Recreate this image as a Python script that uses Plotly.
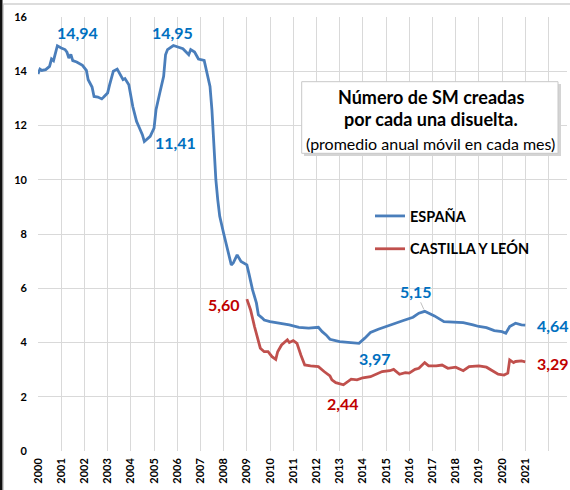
import plotly.graph_objects as go

# ---------------- data ----------------
espana_dates = [
    "2000-01", "2000-02", "2000-03", "2000-05", "2000-07", "2000-08", "2000-09", "2000-10", "2000-11",
    "2001-01", "2001-03", "2001-04", "2001-05", "2001-06", "2001-07", "2001-09", "2001-12",
    "2002-02", "2002-03", "2002-05", "2002-06", "2002-08", "2002-10", "2002-11",
    "2003-01", "2003-02", "2003-04", "2003-06", "2003-07", "2003-09", "2003-10", "2003-12",
    "2004-02", "2004-04", "2004-05", "2004-07", "2004-08", "2004-11",
    "2005-01", "2005-02", "2005-04", "2005-06", "2005-07", "2005-08", "2005-11",
    "2006-02", "2006-04", "2006-07", "2006-08", "2006-10", "2006-12",
    "2007-03", "2007-04", "2007-06", "2007-07", "2007-08", "2007-09", "2007-10", "2007-11",
    "2008-01", "2008-03", "2008-05", "2008-06", "2008-08", "2008-10",
    "2009-01", "2009-02", "2009-04", "2009-06", "2009-07", "2009-09", "2009-10",
    "2010-01", "2010-06", "2010-11", "2011-04", "2011-09", "2012-02", "2012-04", "2012-06", "2012-08",
    "2013-01", "2013-06", "2013-11", "2014-02", "2014-05", "2014-09",
    "2015-01", "2015-05", "2015-10", "2016-03", "2016-06", "2016-09",
    "2017-02", "2017-07", "2017-11", "2018-05", "2018-10",
    "2019-01", "2019-05", "2019-09", "2020-01", "2020-03", "2020-05", "2020-07", "2020-08", "2020-11",
    "2021-01",
]
espana_values = [
    13.90, 14.08, 14.03, 14.06, 14.18, 14.45, 14.39, 14.67, 14.94,
    14.86, 14.80, 14.70, 14.49, 14.62, 14.39, 14.34, 14.22,
    14.03, 13.69, 13.42, 13.07, 13.05, 12.98, 13.05,
    13.20, 13.50, 14.00, 14.08, 13.94, 13.69, 13.73, 13.50,
    12.70, 12.15, 11.99, 11.66, 11.41, 11.60,
    11.90, 12.58, 13.20, 13.81, 14.61, 14.80, 14.95,
    14.88, 14.83, 14.61, 14.80, 14.71, 14.45,
    14.40, 14.06, 13.44, 12.58, 11.10, 10.00, 9.26, 8.65,
    8.03, 7.42, 6.86, 6.93, 7.23, 6.99,
    6.86, 6.56, 5.94, 5.45, 5.02, 4.90, 4.83,
    4.77, 4.71, 4.65, 4.56, 4.53, 4.56, 4.40, 4.28, 4.12,
    4.03, 4.00, 3.97, 4.16, 4.37, 4.49,
    4.59, 4.71, 4.81, 4.93, 5.08, 5.15,
    4.98, 4.77, 4.75, 4.73, 4.65,
    4.59, 4.55, 4.44, 4.40, 4.34, 4.59, 4.65, 4.71, 4.65,
    4.64,
]

cyl_dates = [
    "2009-01", "2009-03", "2009-05", "2009-07", "2009-08", "2009-10", "2009-12",
    "2010-02", "2010-04", "2010-05", "2010-07", "2010-10", "2010-11",
    "2011-01", "2011-03", "2011-05", "2011-07", "2011-10",
    "2012-02", "2012-05", "2012-08", "2012-09", "2012-11",
    "2013-03", "2013-05", "2013-07", "2013-10",
    "2014-01", "2014-05", "2014-08", "2014-11",
    "2015-03", "2015-05", "2015-08", "2015-11",
    "2016-01", "2016-04", "2016-06", "2016-09", "2016-11",
    "2017-03", "2017-06", "2017-07", "2017-09",
    "2018-01", "2018-05", "2018-08", "2019-01", "2019-05", "2019-08", "2019-11",
    "2020-02", "2020-04", "2020-05", "2020-07", "2020-08", "2020-11", "2021-01",
]
cyl_values = [
    5.60, 5.20, 4.59, 4.10, 3.79, 3.66, 3.66,
    3.48, 3.38, 3.66, 3.91, 4.10, 4.00,
    4.07, 3.97, 3.54, 3.17, 3.14,
    3.11, 2.93, 2.77, 2.62, 2.52,
    2.44, 2.56, 2.65, 2.62,
    2.70, 2.74, 2.83, 2.93,
    2.96, 3.01, 2.83, 2.89,
    2.87, 3.01, 3.05, 3.26, 3.14,
    3.14, 3.17, 3.14, 3.05,
    3.09, 2.96, 3.11, 3.14, 3.09, 2.96, 2.83,
    2.80, 2.87, 3.36, 3.26, 3.30, 3.32, 3.29,
]

year_ticks = [str(y) for y in range(2000, 2023)]
year_labels = [str(y) for y in range(2000, 2022)] + [""]
y_ticks = [0, 2, 4, 6, 8, 10, 12, 14, 16]

# (date, value, text, colour, x-offset px, y-offset px)
point_labels = [
    ("2000-11", 14.94, "14,94", "#0070C0", 20, -13),
    ("2005-11", 14.95, "14,95", "#0070C0", -1, -13),
    ("2004-08", 11.41, "11,41", "#0070C0", 31, 1),
    ("2009-01", 5.60, "5,60", "#C00000", -23, 5),
    ("2013-11", 3.97, "3,97", "#0070C0", 16, 15),
    ("2021-01", 4.64, "4,64", "#0070C0", 28, 0),
    ("2021-01", 3.29, "3,29", "#C00000", 28, 2),
    ("2013-03", 2.44, "2,44", "#C00000", 0, 19),
]

BLUE = "#4A7EBB"
RED = "#C0504D"
FONT = "Lato"

# plot-area geometry (pixels) used for paper placement of decorations
L, R, T, B = 38, 567, 17, 451
W, H = 570, 490


def px(x):
    return (x - L) / (R - L)


def py(y):
    return (B - y) / (B - T)


fig = go.Figure()
fig.add_trace(go.Scatter(
    x=espana_dates, y=espana_values, mode="lines", name="<b>ESPAÑA</b>",
    line=dict(color=BLUE, width=2.8), legendgroup="a",
))
fig.add_trace(go.Scatter(
    x=cyl_dates, y=cyl_values, mode="lines", name="<b>CASTILLA Y LEÓN</b>",
    line=dict(color=RED, width=2.8), legendgroup="b",
))

annotations = []
for d, v, t, c, dx, dy in point_labels:
    annotations.append(dict(
        x=d, y=v, xref="x", yref="y", text="<b>%s</b>" % t, showarrow=False,
        xanchor="center", yanchor="middle",
        xshift=dx, yshift=-dy, font=dict(family=FONT, size=16, color=c),
    ))
# 5,15 with leader line
annotations.append(dict(
    x="2016-09", y=5.15, xref="x", yref="y", text="<b>5,15</b>",
    showarrow=True, arrowhead=0, arrowwidth=0.8, arrowcolor="#b0b0b0",
    ax=-9, ay=-20, standoff=2,
    font=dict(family=FONT, size=16, color="#0070C0"),
))

# title box texts
cx = px(430.5)
annotations += [
    dict(x=cx, y=py(97), xref="paper", yref="paper", showarrow=False, xanchor="center", yanchor="middle",
         text="<b>Número de SM creadas</b>", font=dict(family=FONT, size=18, color="#000")),
    dict(x=cx, y=py(119), xref="paper", yref="paper", showarrow=False, xanchor="center", yanchor="middle",
         text="<b>por cada una disuelta.</b>", font=dict(family=FONT, size=18, color="#000")),
    dict(x=cx, y=py(143), xref="paper", yref="paper", showarrow=False, xanchor="center", yanchor="middle",
         text="(promedio anual móvil en cada mes)", font=dict(family=FONT, size=16, color="#000")),
]

shapes = [
    # outer frame and left dark edge
    dict(type="line", xref="paper", yref="paper", x0=px(3), x1=px(570), y0=py(4), y1=py(4),
         line=dict(color="#d0d0d0", width=1.5)),
    dict(type="line", xref="paper", yref="paper", x0=px(3.5), x1=px(3.5), y0=py(4), y1=py(490),
         line=dict(color="#d0d0d0", width=1)),
    dict(type="rect", xref="paper", yref="paper", x0=px(0), x1=px(2.5), y0=py(0), y1=py(490),
         fillcolor="#111", line=dict(width=0)),
    # title box shadow + box
    dict(type="rect", xref="paper", yref="paper", x0=px(304), x1=px(561), y0=py(156), y1=py(84),
         fillcolor="#d4d4d4", line=dict(width=0)),
    dict(type="rect", xref="paper", yref="paper", x0=px(301.7), x1=px(558), y0=py(153.3), y1=py(81.7),
         fillcolor="white", line=dict(color="#c8c8c8", width=1)),
]

fig.update_layout(
    width=W, height=H,
    margin=dict(l=L, r=W - R, t=T, b=H - B),
    paper_bgcolor="white", plot_bgcolor="white",
    font=dict(family=FONT, color="#000"),
    showlegend=True,
    legend=dict(
        x=px(370), y=py(200), xanchor="left", yanchor="top",
        bgcolor="rgba(0,0,0,0)", font=dict(family=FONT, size=14.5, color="#000"),
        tracegroupgap=11, itemwidth=30,
    ),
    annotations=annotations,
    shapes=shapes,
)
fig.update_xaxes(
    type="date", range=["2000-01-01", "2022-10-20"],
    tickmode="array", tickvals=year_ticks, ticktext=["<b>%s</b>" % s if s else "" for s in year_labels],
    tickangle=-90, tickfont=dict(family=FONT, size=11, color="#000"),
    showgrid=True, gridcolor="#d9d9d9", gridwidth=1,
    zeroline=False, showline=False, ticks="", ticklabelstandoff=4,
)
fig.update_yaxes(
    range=[0, 16], tickmode="array", tickvals=y_ticks,
    ticktext=["<b>%d</b>" % v for v in y_ticks],
    tickfont=dict(family=FONT, size=11, color="#000"),
    showgrid=True, gridcolor="#d9d9d9", gridwidth=1,
    zeroline=False, showline=False, ticks="", ticklabelstandoff=10,
)

fig.write_html(
    "out.html",
    config={"displayModeBar": False},
    post_script="document.body.style.margin='0';document.body.style.overflow='hidden';",
)
